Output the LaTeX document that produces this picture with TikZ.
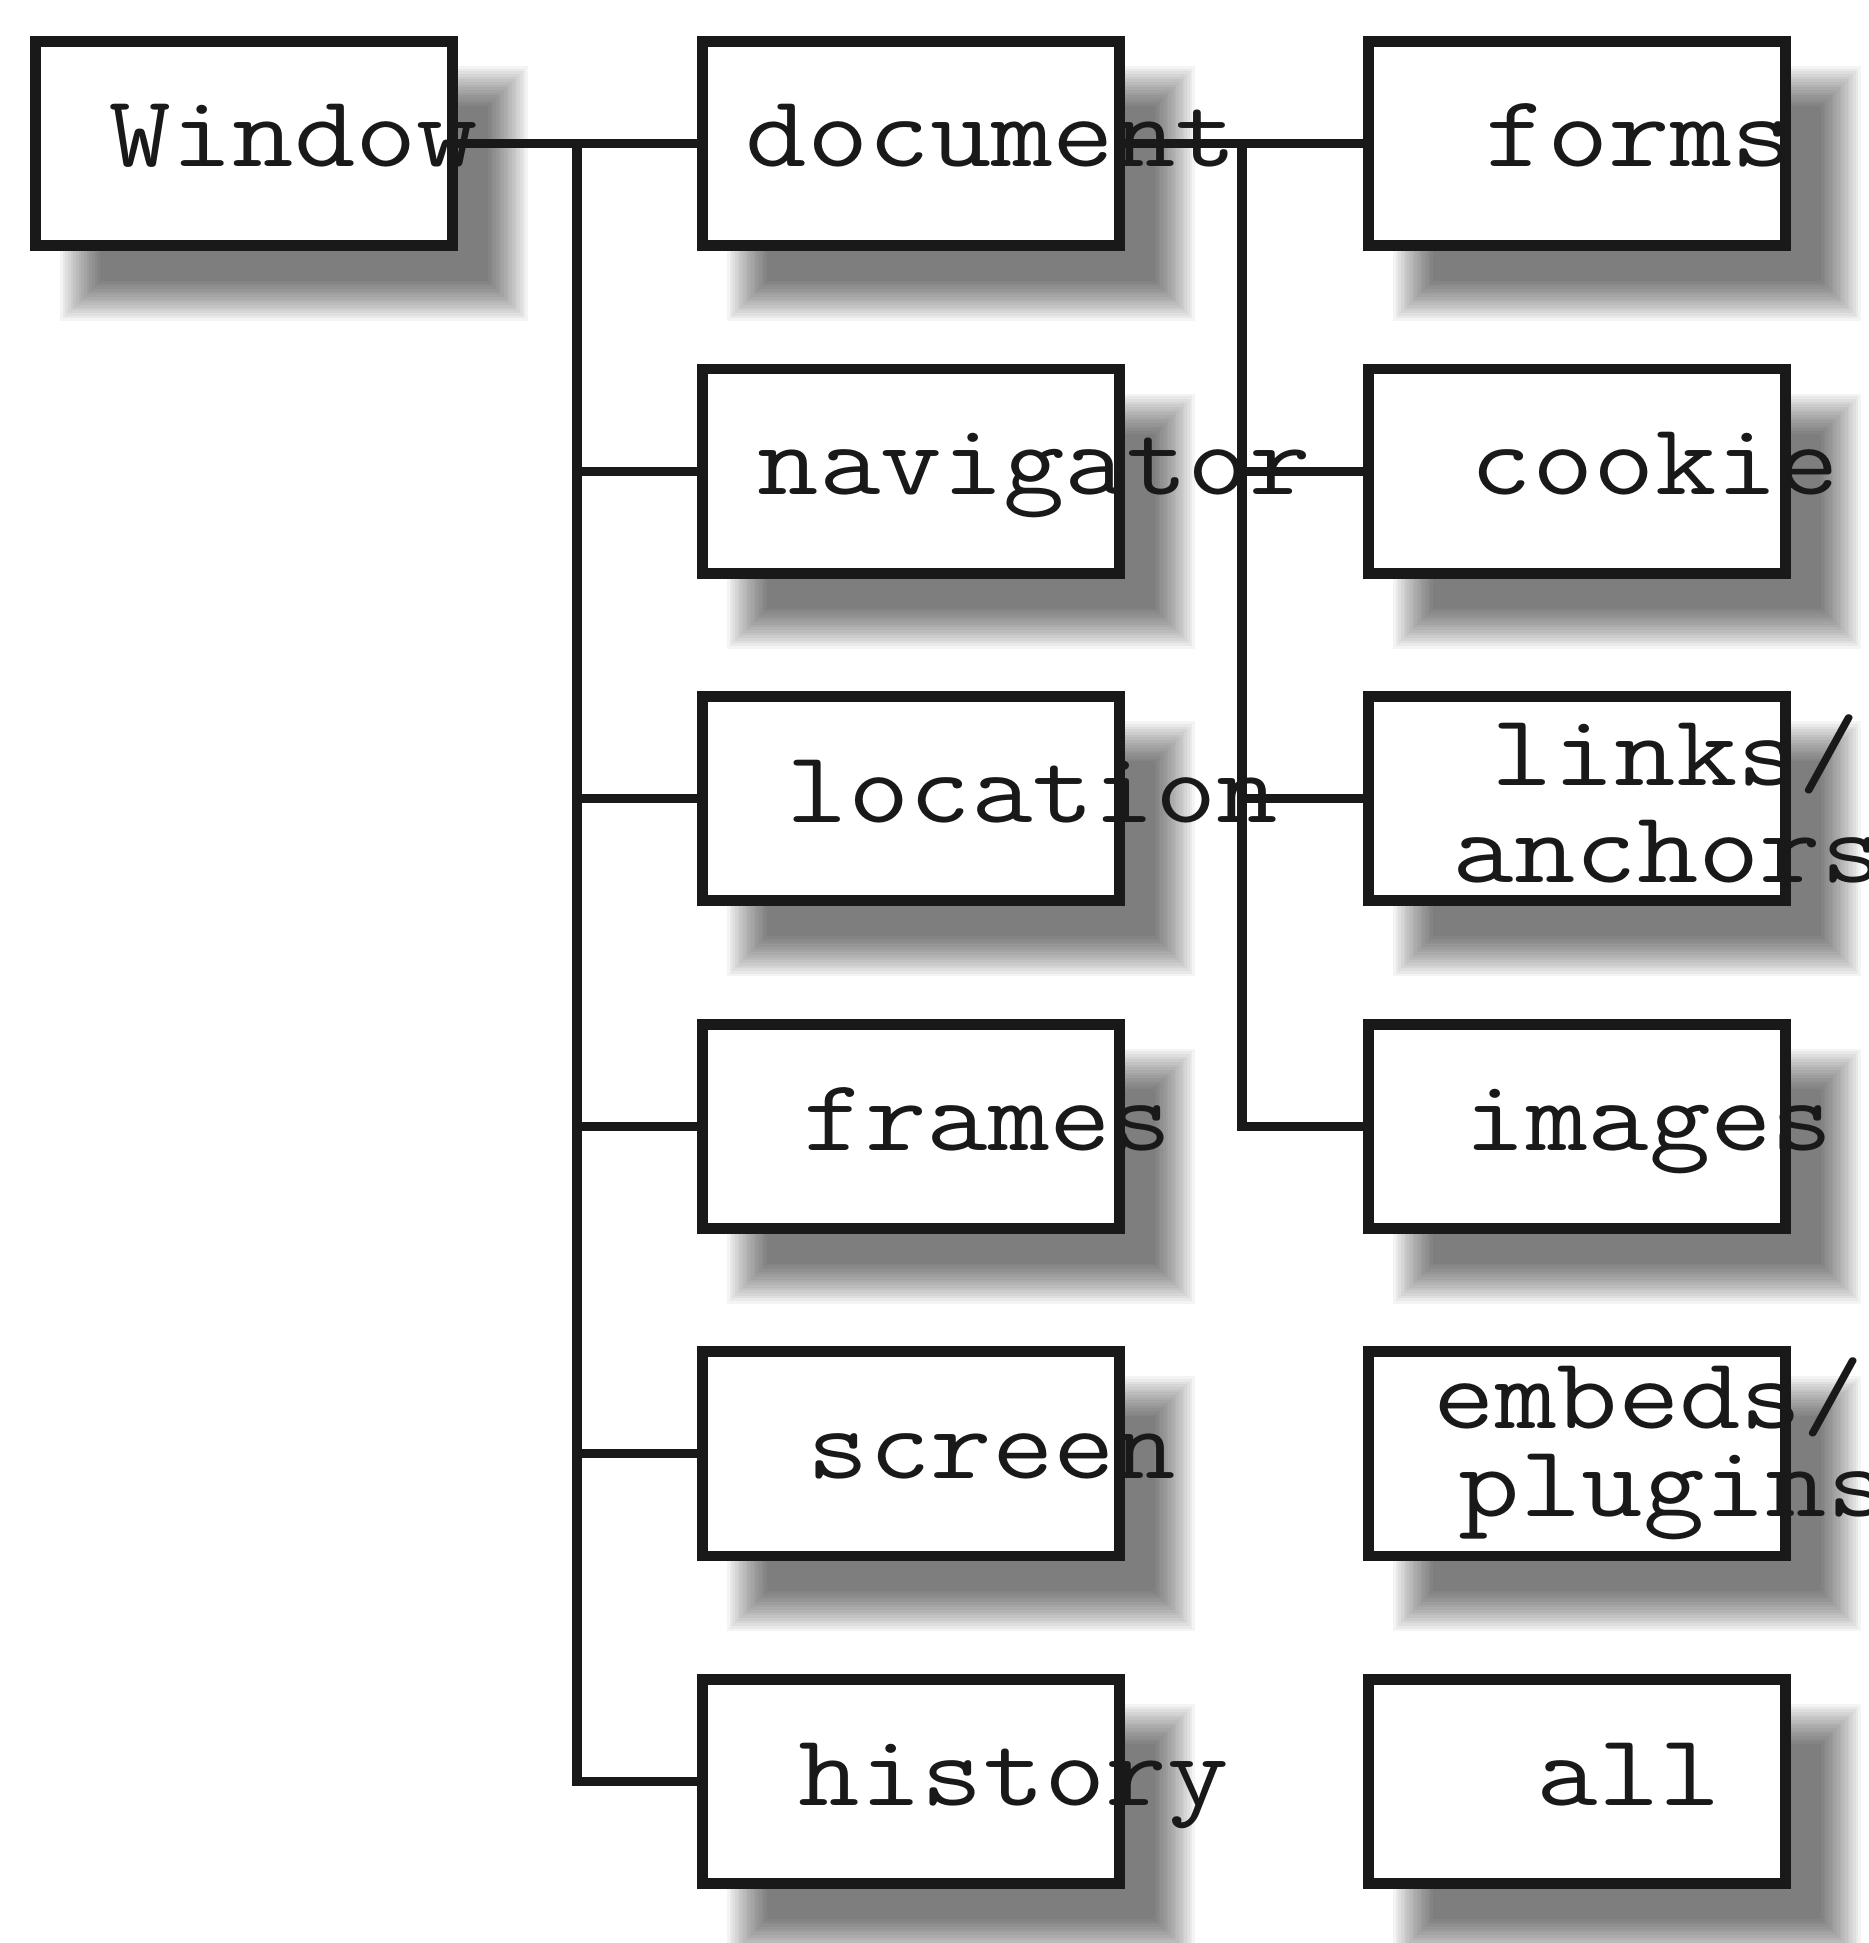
\documentclass[tikz,border=0pt]{standalone}
\usepackage{graphicx}
\usetikzlibrary{calc,backgrounds}
\tikzset{
 box/.style={draw=black!90, line width=3.1pt, fill=white, minimum width=4.17cm, minimum height=2.04cm, inner sep=0pt},
 conn/.style={draw=black!90, line width=2.6pt},
 lbl/.style={anchor=base west, inner sep=0pt, font=\ttfamily\fontsize{29}{34}\selectfont, text=black!90},
}
\newcommand\lbltext[1]{\scalebox{1.17}[1]{#1}}
\newcommand\dropshadow[1]{\foreach \sk in {0,...,15}{\pgfmathsetmacro\shE{-20+2.667*\sk}\fill[black,opacity=0.045] ($(#1.north west)+(50+\shE,50+\shE)$) rectangle ($(#1.south east)+(50-\shE,50-\shE)$);}}
\begin{document}
\begin{tikzpicture}[x=0.01cm,y=-0.01cm]
\useasboundingbox (0,0) rectangle (1868,1943);
\clip (0,0) rectangle (1868,1943);
% boxes
\node[box] (win) at (244,143.5) {};
\node[box] (doc) at (911,143.5) {};
\node[box] (nav) at (911,471.1) {};
\node[box] (loc) at (911,798.7) {};
\node[box] (fra) at (911,1126.3) {};
\node[box] (scr) at (911,1453.9) {};
\node[box] (his) at (911,1781.5) {};
\node[box] (frm) at (1577,143.5) {};
\node[box] (coo) at (1577,471.1) {};
\node[box] (lnk) at (1577,798.7) {};
\node[box] (img) at (1577,1126.3) {};
\node[box] (emb) at (1577,1453.9) {};
\node[box] (all) at (1577,1781.5) {};
% shadows
\begin{scope}[on background layer]
\foreach \n in {win,doc,nav,loc,fra,scr,his,frm,coo,lnk,img,emb,all}{\dropshadow{\n}}
\end{scope}
% connectors
\coordinate (t1) at (577,143.5);
\coordinate (t2) at (1242,143.5);
\draw[conn] (win.east) -- (doc.west);
\draw[conn] (t1) -- (t1 |- his.west) -- (his.west);
\draw[conn] (t1 |- nav.west) -- (nav.west);
\draw[conn] (t1 |- loc.west) -- (loc.west);
\draw[conn] (t1 |- fra.west) -- (fra.west);
\draw[conn] (t1 |- scr.west) -- (scr.west);
\draw[conn] (doc.east) -- (frm.west);
\draw[conn] (t2) -- (t2 |- img.west) -- (img.west);
\draw[conn] (t2 |- coo.west) -- (coo.west);
\draw[conn] (t2 |- lnk.west) -- (lnk.west);
% labels
\node[lbl] (tWin) at (109,167) {\lbltext{Window}};
\node[lbl] (tDoc) at (745,167) {\lbltext{document}};
\node[lbl] (tNav) at (757,495) {\lbltext{navigator}};
\node[lbl] (tLoc) at (786,822) {\lbltext{location}};
\node[lbl] (tFra) at (803,1150) {\lbltext{frames}};
\node[lbl] (tScr) at (807,1478) {\lbltext{screen}};
\node[lbl] (tHis) at (798,1805) {\lbltext{history}};
\node[lbl] (tFrm) at (1485,167) {\lbltext{forms}};
\node[lbl] (tCoo) at (1470,495) {\lbltext{cookie}};
\node[lbl] (tLnkA) at (1491,785) {\lbltext{links/}};
\node[lbl] (tLnkB) at (1452,882) {\lbltext{anchors}};
\node[lbl] (tImg) at (1464,1150) {\lbltext{images}};
\node[lbl] (tEmbA) at (1433,1428) {\lbltext{embeds/}};
\node[lbl] (tEmbB) at (1458,1516) {\lbltext{plugins}};
\node[lbl] (tAll) at (1536,1805) {\lbltext{all}};
\end{tikzpicture}
\end{document}
